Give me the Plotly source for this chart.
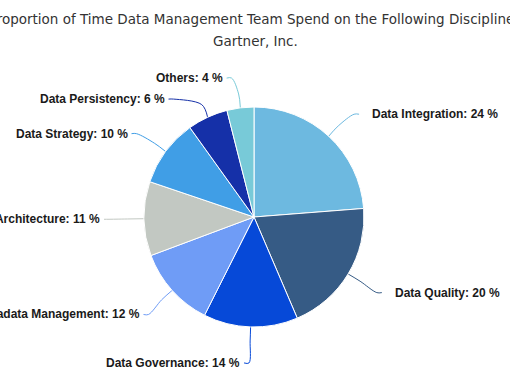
import math
import plotly.graph_objects as go

labels = ["Data Integration", "Data Quality", "Data Governance", "Metadata Management",
          "Data Architecture", "Data Strategy", "Data Persistency", "Others"]
values = [24, 20, 14, 12, 11, 10, 6, 4]
colors = ["#6DB9E0", "#365B85", "#0649D8", "#6F9CF6",
          "#C2C8C2", "#409EE6", "#1530A8", "#78CAD8"]
title_text = "Proportion of Time Data Management Team Spend on the Following Disciplines"
subtitle_text = "Gartner, Inc."

W, H = 510, 382
cx, cy, r = 254, 217, 110
dist = 30
R = r + dist

fig = go.Figure()
fig.add_trace(go.Pie(
    labels=labels, values=values, sort=False, direction="clockwise", rotation=0,
    marker=dict(colors=colors, line=dict(color="white", width=1)),
    textinfo="none", hoverinfo="label+percent", showlegend=False,
    domain=dict(x=[(cx - r) / W, (cx + r) / W],
                y=[(H - cy - r) / H, (H - cy + r) / H]),
))

total = sum(values)
items = []
cum = 0
for lab, v, col in zip(labels, values, colors):
    th = math.radians((cum + v / 2) / total * 360)
    cum += v
    side = 1 if math.sin(th) > 0 else -1
    c = math.cos(th)
    items.append(dict(lab=lab, v=v, col=col, th=th, side=side,
                      y=cy - R * c + 6 * max(0.0, -c)))

# resolve overlaps per side
gap = 21
for side in (1, -1):
    grp = sorted([it for it in items if it["side"] == side], key=lambda d: d["y"])
    for i in range(1, len(grp)):
        if grp[i]["y"] < grp[i - 1]["y"] + gap:
            grp[i]["y"] = grp[i - 1]["y"] + gap

annotations = []
for it in items:
    th, side, y = it["th"], it["side"], it["y"]
    s = max(-1.0, min(1.0, (y - cy) / R))
    gx = cx + side * R * math.sqrt(1 - s * s)
    end_x = gx + side * 10
    p0 = (cx + r * math.sin(th), cy - r * math.cos(th))
    p1 = (cx + (r + 14) * math.sin(th), cy - (r + 14) * math.cos(th))
    p2 = (end_x - side * 5, y)
    p3 = (end_x, y)
    xs = [p0[0], p1[0], p2[0], p3[0]]
    ys = [p0[1], p1[1], p2[1], p3[1]]
    fig.add_trace(go.Scatter(x=xs, y=ys, mode="lines",
                             line=dict(color=it["col"], width=1, shape="spline", smoothing=1),
                             hoverinfo="skip", showlegend=False))
    lx = end_x + (11 if side > 0 else -2)
    annotations.append(dict(
        x=lx, y=y, xref="x", yref="y", showarrow=False,
        text=f"{it['lab']}: {it['v']} %",
        xanchor="left" if side > 0 else "right", yanchor="middle",
        font=dict(family="Liberation Sans", size=12, color="#1a1a1a", weight="bold"),
    ))

annotations.append(dict(
    x=0.5, y=1 - 41 / H, xref="paper", yref="paper", showarrow=False,
    text=subtitle_text, xanchor="center", yanchor="middle",
    font=dict(family="DejaVu Sans", size=13.5, color="#333333"),
))

fig.update_layout(
    width=W, height=H, margin=dict(l=0, r=0, t=0, b=0),
    paper_bgcolor="white", plot_bgcolor="rgba(0,0,0,0)",
    title=dict(text=title_text, x=0.5, xanchor="center",
               xref="paper", yref="container", y=1 - 19 / H, yanchor="middle",
               font=dict(family="DejaVu Sans", size=13.5, color="#333333")),
    xaxis=dict(range=[0, W], visible=False, fixedrange=True, domain=[0, 1]),
    yaxis=dict(range=[H, 0], visible=False, fixedrange=True, domain=[0, 1]),
    annotations=annotations,
)

fig.write_html("out.html", config={"displayModeBar": False},
               post_script="document.body.style.margin='0';")
